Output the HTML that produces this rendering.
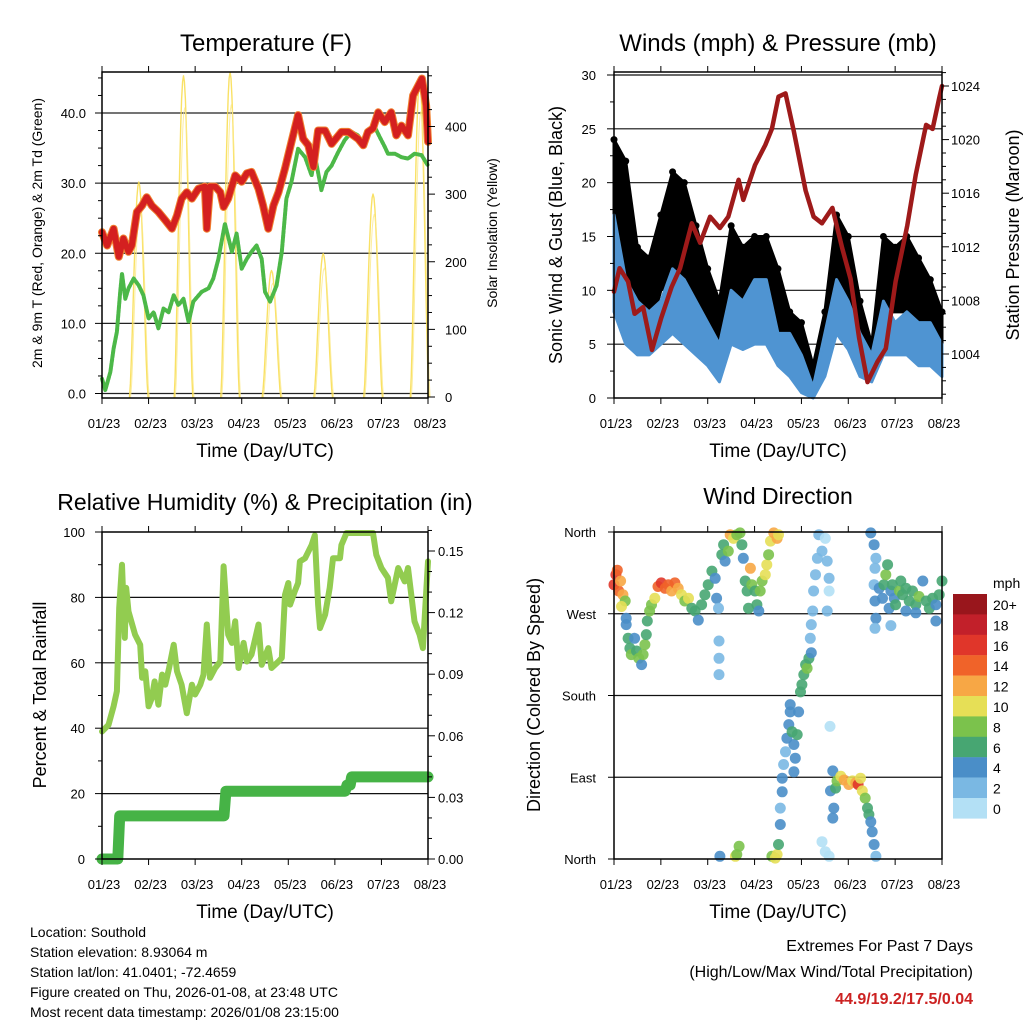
<!DOCTYPE html>
<html><head><meta charset="utf-8"><style>
html,body{margin:0;padding:0;background:#fff;}
svg{display:block;font-family:"Liberation Sans",sans-serif;}
</style></head><body>
<svg id="c" width="1024" height="1024" viewBox="0 0 1024 1024"></svg>
<script>
// ---------- DATA ----------
const xTickLabels = ["01/23","02/23","03/23","04/23","05/23","06/23","07/23","08/23"];
// Temperature panel
const tDays = [0,.11,.25,.36,.46,.57,.64,.75,.86,.96,1.07,1.21,1.36,1.5,1.61,1.71,1.82,1.93,2.07,2.21,2.25,2.32,2.43,2.54,2.61,2.71,2.86,3.0,3.11,3.21,3.36,3.46,3.57,3.68,3.79,3.93,4.07,4.21,4.32,4.43,4.54,4.64,4.79,4.93,5.14,5.29,5.5,5.61,5.71,5.82,5.93,6.07,6.21,6.32,6.43,6.57,6.68,6.79,6.87,6.96,7.0];
const tempF = [23.0,21.1,23.5,19.5,22.1,20.2,21.1,25.9,26.8,28.0,26.8,25.9,24.7,23.5,25.4,27.8,28.7,27.8,29.2,29.5,23.5,29.5,29.5,28.7,26.6,27.8,31.1,30.2,31.4,31.6,29.2,26.8,23.5,26.8,28.7,32.1,35.9,39.7,36.3,35.4,32.3,37.5,37.5,35.6,37.3,37.3,36.3,35.4,37.3,37.8,40.1,38.7,40.1,36.8,38.2,36.8,42.5,43.9,44.9,41.1,35.9];
const tdDays = [0,.07,.18,.25,.32,.39,.43,.5,.57,.68,.79,.89,1.0,1.11,1.21,1.32,1.43,1.54,1.64,1.75,1.86,1.96,2.14,2.29,2.39,2.5,2.64,2.79,2.89,3.0,3.11,3.21,3.32,3.43,3.5,3.61,3.75,3.86,3.96,4.07,4.21,4.36,4.5,4.57,4.71,4.82,4.93,5.07,5.21,5.36,5.5,5.61,5.71,5.82,5.96,6.07,6.14,6.29,6.43,6.57,6.71,6.86,7.0];
const dewF = [2.1,0.5,3.1,6.4,8.8,14.5,17.1,13.5,15.0,16.4,15.4,14.0,10.7,11.6,9.3,12.1,11.6,14.0,12.6,13.5,10.2,13.1,14.5,15.0,16.4,19.2,24.2,20.2,22.8,17.8,19.2,20.2,21.1,19.2,14.5,13.1,15.4,20.2,27.8,30.2,34.9,33.7,31.1,34.0,29.0,31.6,32.5,34.4,36.1,37.3,36.8,35.4,36.8,38.5,36.6,35.2,34.2,34.2,33.7,33.5,34.2,34.0,32.5];
const solarPeakDays = [0.79,1.75,2.75,3.64,4.75,5.82,6.82];
const solarPeakWm2 = [318,475,480,187,212,300,469];
// Winds panel
const windDays = [0,.25,.5,.75,1,1.25,1.5,1.75,2,2.25,2.5,2.75,3,3.25,3.5,3.75,4,4.25,4.5,4.75,5,5.25,5.5,5.75,6,6.25,6.5,6.75,7];
const gustHi = [24,22,14,13,17,21,20,16,12,9,16,14,15,15,12,8,7,3,8,17,15,9,5,15,14,15,13,11,8];
const gustLo = [12,11,8,6,10,11,9,7,6,4,8,8,8,9,5,3,1.5,0.5,3,10,8,4,3,8,8,8,7,6,4];
const windHi = [17,11,9,8,9,12,11,9,7,5,10,9,11,11,6,6,4,1,6,11,9,6,4,9,7,8,7,7,5];
const windLo = [8,5,4,4,5,6,5,4,3,1.5,5,4.5,5,5,3,2,0.5,0,2,6,4.5,2,1.5,4,4,4,3,3,2];
const presDays = [0,.12,.30,.44,.62,.81,1.01,1.23,1.41,1.66,1.84,2.05,2.26,2.44,2.66,2.76,3.01,3.23,3.37,3.51,3.66,3.84,4.09,4.26,4.44,4.66,4.87,5.05,5.23,5.41,5.62,5.80,6.01,6.26,6.44,6.66,6.80,6.94,7.0];
const presMb = [1008.65,1010.4,1009.4,1007.0,1007.5,1004.3,1006.7,1009.0,1010.4,1013.75,1012.3,1014.25,1013.4,1014.25,1017.0,1015.5,1018.1,1019.6,1020.8,1023.2,1023.45,1020.6,1016.2,1014.25,1013.75,1014.9,1011.9,1009.6,1005.2,1001.9,1003.4,1004.4,1009.4,1013.6,1017.4,1021.1,1020.8,1023.1,1024.0];
// RH / precipitation panel
const rhDays = [0,.14,.25,.32,.37,.43,.49,.52,.57,.71,.82,.86,.93,1.0,1.07,1.13,1.21,1.29,1.36,1.44,1.54,1.61,1.71,1.82,1.93,2.0,2.11,2.18,2.25,2.32,2.43,2.54,2.61,2.71,2.79,2.86,2.93,3.04,3.11,3.21,3.36,3.43,3.57,3.64,3.79,3.86,3.93,4.0,4.04,4.14,4.21,4.25,4.36,4.5,4.57,4.64,4.68,4.79,4.89,4.96,5.11,5.14,5.25,5.82,5.89,6.0,6.14,6.21,6.36,6.5,6.57,6.71,6.82,6.89,7.0];
const rhPct = [39,41,46.7,51.3,76.8,90,67.6,82.9,75.7,68.6,65.5,55.4,57.4,46.7,49.2,54.3,47.2,56.4,53.3,58.4,65.5,57.4,53.3,44.6,53.3,50.3,53.3,56.4,71.7,55.4,58.4,60.4,89.5,68.6,66.1,72.7,58.4,66.1,60.4,62.5,71.7,59.4,64.5,58.4,60.4,61.5,80.8,84.4,77.8,81.9,84.4,91,92,96,99,77.8,70.6,74.7,82.9,92,92,96,99.7,99.7,93,89,86,78.8,89,84.9,89,72.7,68.6,64.5,91];
const prDays = [0,0.34,0.38,2.62,2.66,5.22,5.26,5.33,5.36,7.0];
const prIn = [0,0,0.021,0.021,0.033,0.033,0.036,0.036,0.040,0.040];
// Wind direction panel
const wdDays = [0,.04,.07,.10,.14,.19,.24,.16,.26,.26,.30,.34,.37,.44,.48,.53,.59,.62,.66,.69,.71,.76,.80,.87,.94,1.01,1.09,1.16,1.23,1.30,1.37,1.44,1.51,1.59,1.66,1.73,1.80,1.87,1.94,2.01,2.09,2.16,2.19,2.23,2.24,2.24,2.24,2.30,2.34,2.37,2.44,2.48,2.55,2.62,2.69,2.73,2.76,2.80,2.84,2.87,2.91,2.94,3.01,3.05,3.09,3.12,3.16,3.23,3.26,3.30,3.34,3.41,3.48,3.51,2.26,2.59,2.62,2.67,3.37,3.44,3.48,3.51,3.55,3.55,3.59,3.59,3.62,3.66,3.69,3.73,3.76,3.80,3.84,3.87,3.84,3.76,3.91,3.94,3.98,4.01,4.05,4.09,4.12,4.16,4.21,4.19,4.21,4.24,4.26,4.30,4.34,4.37,4.44,4.51,4.55,4.59,4.59,4.55,4.61,4.44,4.51,4.59,4.67,4.62,4.69,4.67,4.73,4.76,4.84,4.91,5.01,5.09,5.16,5.21,5.26,5.30,5.36,5.41,5.44,5.48,5.51,5.55,5.59,5.48,5.55,5.59,5.57,5.55,5.57,5.59,5.57,5.66,5.73,5.76,5.80,5.84,5.87,5.91,5.94,5.98,6.01,6.09,6.12,6.16,6.23,6.30,6.37,6.44,6.51,6.59,6.66,6.73,6.80,6.87,6.94,7.0,6.87,5.91,6.23,6.44];
const wdDeg = [302,313,318,295,306,291,284,278,265,258,243,232,225,243,229,221,214,225,236,247,262,273,280,287,300,304,298,302,295,304,298,291,284,287,276,273,263,280,291,302,317,309,287,276,240,221,203,335,346,328,339,357,353,357,359,346,331,306,295,276,320,302,295,280,273,295,306,313,324,335,350,359,353,357,3,3,5,14,3,1,5,16,38,56,74,89,104,118,133,148,162,140,126,111,96,170,137,162,184,192,203,214,210,221,227,243,258,273,295,313,331,357,339,353,328,309,295,273,146,19,8,3,97,75,56,45,78,86,91,87,82,86,84,82,89,75,67,56,49,41,30,16,3,359,346,331,320,302,284,265,254,298,287,302,313,324,276,295,302,287,280,295,306,291,298,284,295,280,289,306,284,276,287,280,291,306,262,257,273,271];
const wdSpd = [16,17,15,14,12,12,8,10,4,4,7,6,8,5,6,9,4,8,8,6,7,8,9,10,14,16,15,14,13,14,12,10,8,10,6,6,4,6,7,6,6,5,4,3,2,2,2,6,7,5,8,12,11,9,8,6,5,6,7,6,12,8,6,6,4,9,8,11,10,9,10,13,12,11,4,10,8,8,9,11,10,6,4,3,4,4,3,3,4,4,4,6,4,4,4,4,7,4,6,6,7,6,8,6,4,3,2,2,2,2,2,2,2,1,2,2,1,2,1,0,1,0,4,4,4,4,6,8,10,12,12,11,13,16,10,10,8,7,6,4,4,4,2,4,4,3,2,3,4,4,2,4,5,7,8,7,4,5,6,5,6,8,7,7,6,6,7,6,8,5,6,6,6,5,6,6,4,3,4,5];
const cbLabels = ["20+","18","16","14","12","10","8","6","4","2","0"];
const cbColors = ["#99161c","#c2202a","#e0362a","#f06329","#f7a745","#e6df56","#7bc24c","#47a672","#4a8ec8","#7ab8e3","#b3e0f5"];

// ---------- HELPERS ----------
const NS="http://www.w3.org/2000/svg";
const svg=document.getElementById('c');
function el(tag,attrs,parent,text){const e=document.createElementNS(NS,tag);for(const k in attrs)e.setAttribute(k,attrs[k]);if(text!==undefined)e.textContent=text;(parent||svg).appendChild(e);return e;}
function lin(d0,d1,r0,r1){return v=>r0+(v-d0)/(d1-d0)*(r1-r0);}
function grp(name){const g=el('g',{});return g;}
function txt(parent,name,x,y,s,size,anchor,extra){const t=el('text',Object.assign({x:x,y:y,'font-size':size,'text-anchor':anchor||'middle',fill:'#000'},extra||{}),parent,s);return t;}
function frame(g,x0,x1,y0,y1){
  el('rect',{x:x0,y:y0,width:x1-x0,height:y1-y0,fill:'none',stroke:'#000','stroke-width':1.5},g);
}
function xAxis(g,X,y0,y1,title){
  for(let i=0;i<=7;i++){const x=X(i);
    el('line',{x1:x,x2:x,y1:y1,y2:y1+6,stroke:'#000','stroke-width':1},g);
    el('line',{x1:x,x2:x,y1:y0,y2:y0-6,stroke:'#000','stroke-width':1},g);
    txt(g,'x-tick-label',x+2,y1+30,xTickLabels[i],13);}
  txt(g,'x-axis-title',(X(0)+X(7))/2,y1+59,title,19);
}
function poly(g,name,xs,ys,X,Y,attrs){
  const pts=xs.map((d,i)=>X(d).toFixed(1)+','+Y(ys[i]).toFixed(1)).join(' ');
  const p=el('polyline',Object.assign({points:pts,fill:'none','stroke-linejoin':'round','stroke-linecap':'round'},attrs),g);
  return p;
}

// ---------- PANEL 1: Temperature ----------
(function(){
  const g=grp('temperature-panel');
  const x0=102,x1=428,y0=72,y1=398;
  const X=lin(0,7,x0,x1), Y=lin(0,40,393.5,113), Ys=lin(0,400,397,126.5);
  [0,10,20,30,40].forEach(v=>{el('line',{x1:x0,x2:x1,y1:Y(v),y2:Y(v),stroke:'#222','stroke-width':1.2},g);});
  const sg=grp('solar-insolation-series');g.appendChild(sg);
  solarPeakDays.forEach((d,i)=>{
    const xs=[],ys=[];
    for(let k=-10;k<=10;k++){const f=k/10;xs.push(d+f*0.2);ys.push(solarPeakWm2[i]*Math.max(0,Math.cos(f*Math.PI/2))**1.5);}
    poly(sg,'solar-peak',xs,ys,X,Ys,{stroke:'#f8dc4a','stroke-width':1.4,opacity:0.85});
    const xs2=xs.map(v=>v+0.025);
    poly(sg,'solar-peak-edge',xs2,ys.map(v=>v*0.9),X,Ys,{stroke:'#fbe889','stroke-width':1,opacity:0.8});
  });
  poly(g,'dewpoint-line',tdDays,dewF,X,Y,{stroke:'#4cb848','stroke-width':4,'stroke-dasharray':'3 1.5'});
  poly(g,'temp-9m-line',tDays,tempF,X,Y,{stroke:'#f08030','stroke-width':8});
  poly(g,'temp-2m-line',tDays,tempF,X,Y,{stroke:'#d42020','stroke-width':6});
  frame(g,x0,x1,y0,y1);
  for(let v=0;v<=46;v+=2.5){el('line',{x1:x0,x2:x0-(v%10===0?7:4),y1:Y(v),y2:Y(v),stroke:'#000'},g);}
  [0,10,20,30,40].forEach(v=>txt(g,'left-tick-label',x0-16,Y(v)+5,v.toFixed(1),13,'end'));
  for(let v=0;v<=475;v+=25){el('line',{x1:x1,x2:x1+(v%100===0?7:4),y1:Ys(v),y2:Ys(v),stroke:'#000'},g);}
  [0,100,200,300,400].forEach(v=>txt(g,'right-tick-label',x1+17,Ys(v)+5,String(v),13,'start'));
  txt(g,'chart-title',266,51,'Temperature (F)',24);
  txt(g,'y-axis-title',0,0,'2m & 9m T (Red, Orange) & 2m Td (Green)',14,'middle',{transform:'translate(42,233) rotate(-90)'});
  txt(g,'right-axis-title',0,0,'Solar Insolation (Yellow)',14,'middle',{transform:'translate(497,233) rotate(-90)'});
  xAxis(g,X,y0,y1,'Time (Day/UTC)');
})();

// ---------- PANEL 2: Winds ----------
(function(){
  const g=grp('winds-panel');
  const x0=614,x1=942,y0=72,y1=398;
  const X=lin(0,7,x0,x1), Y=lin(0,30,398,75), Yp=lin(1004,1024,354,86);
  [5,10,15,20,25,30].forEach(v=>el('line',{x1:x0,x2:x1,y1:Y(v),y2:Y(v),stroke:'#111','stroke-width':1.2},g));
  function band(name,hi,lo,color){
    const pts=windDays.map((d,i)=>X(d)+','+Y(hi[i])).concat(windDays.slice().reverse().map((d,j)=>{const i=windDays.length-1-j;return X(d)+','+Y(lo[i]);})).join(' ');
    const p=el('polygon',{points:pts,fill:color,stroke:color,'stroke-width':3,'stroke-linejoin':'round'},g);
    
  }
  band('gust-scatter',gustHi,gustLo,'#000');
  const dg=grp('gust-dots');g.appendChild(dg);
  windDays.forEach((d,i)=>{const c=el('circle',{cx:X(d),cy:Y(gustHi[i]),r:3.5,fill:'#000'},dg);});
  band('sonic-wind-series',windHi,windLo,'#4f94d2');
  poly(g,'pressure-line',presDays,presMb,X,Yp,{stroke:'#9e1a1a','stroke-width':4.5});
  frame(g,x0,x1,y0,y1);
  for(let v=0;v<=30;v+=2.5){el('line',{x1:x0,x2:x0-(v%5===0?7:4),y1:Y(v),y2:Y(v),stroke:'#000'},g);}
  [0,5,10,15,20,25,30].forEach(v=>txt(g,'left-tick-label',x0-18,Y(v)+5,String(v),13,'end'));
  for(let v=1001;v<=1025;v+=1){el('line',{x1:x1,x2:x1+(v%4===0?7:4),y1:Yp(v),y2:Yp(v),stroke:'#000'},g);}
  [1004,1008,1012,1016,1020,1024].forEach(v=>txt(g,'right-tick-label',x1+9,Yp(v)+5,String(v),13,'start'));
  txt(g,'chart-title',778,51,'Winds (mph) & Pressure (mb)',24);
  txt(g,'y-axis-title',0,0,'Sonic Wind & Gust (Blue, Black)',18,'middle',{transform:'translate(562,235) rotate(-90)'});
  txt(g,'right-axis-title',0,0,'Station Pressure (Maroon)',18,'middle',{transform:'translate(1019,235) rotate(-90)'});
  xAxis(g,X,y0,y1,'Time (Day/UTC)');
})();

// ---------- PANEL 3: RH & Precip ----------
(function(){
  const g=grp('humidity-precip-panel');
  const x0=102,x1=428,y0=532,y1=859;
  const X=lin(0,7,x0,x1), Y=lin(0,100,859,532), Yr=lin(0,0.15,859,551);
  [20,40,60,80].forEach(v=>el('line',{x1:x0,x2:x1,y1:Y(v),y2:Y(v),stroke:'#111','stroke-width':1.2},g));
  poly(g,'relative-humidity-line',rhDays,rhPct,X,Y,{stroke:'#92cc50','stroke-width':6});
  poly(g,'precipitation-line',prDays,prIn,X,Yr,{stroke:'#46b346','stroke-width':11});
  frame(g,x0,x1,y0,y1);
  for(let v=0;v<=100;v+=10){el('line',{x1:x0,x2:x0-(v%20===0?7:4),y1:Y(v),y2:Y(v),stroke:'#000'},g);}
  [0,20,40,60,80,100].forEach(v=>txt(g,'left-tick-label',x0-17,Y(v)+5,String(v),13,'end'));
  for(let v=0;v<=0.16;v+=0.01){el('line',{x1:x1,x2:x1+(Math.round(v*100)%3===0?7:4),y1:Yr(v),y2:Yr(v),stroke:'#000'},g);}
  [0,0.03,0.06,0.09,0.12,0.15].forEach(v=>txt(g,'right-tick-label',x1+10,Yr(v)+5,v.toFixed(2),13,'start'));
  txt(g,'chart-title',265,510,'Relative Humidity (%) & Precipitation (in)',23);
  txt(g,'y-axis-title',0,0,'Percent & Total Rainfall',18,'middle',{transform:'translate(46,695) rotate(-90)'});
  xAxis(g,X,y0,y1,'Time (Day/UTC)');
})();

// ---------- PANEL 4: Wind direction ----------
(function(){
  const g=grp('wind-direction-panel');
  const x0=614,x1=942,y0=532,y1=859;
  const X=lin(0,7,x0,x1), Y=lin(0,360,859,532);
  [90,180,270].forEach(v=>el('line',{x1:x0,x2:x1,y1:Y(v),y2:Y(v),stroke:'#111','stroke-width':1.2},g));
  const pg=grp('direction-scatter');g.appendChild(pg);
  function col(s){const idx=Math.min(10,Math.floor(s/2));return cbColors[10-idx];}
  wdDays.forEach((d,i)=>{
    const c=el('circle',{cx:X(d).toFixed(1),cy:Y(wdDeg[i]).toFixed(1),r:5.5,fill:col(wdSpd[i]),opacity:0.9},pg);
    
    
  });
  frame(g,x0,x1,y0,y1);
  ["North","East","South","West","North"].forEach((s,i)=>{
    el('line',{x1:x0,x2:x0-6,y1:Y(i*90),y2:Y(i*90),stroke:'#000'},g);
    txt(g,'direction-tick-label',x0-18,Y(i*90)+5,s,13,'end');
  });
  txt(g,'chart-title',778,504,'Wind Direction',23);
  txt(g,'y-axis-title',0,0,'Direction (Colored By Speed)',18,'middle',{transform:'translate(540,695) rotate(-90)'});
  xAxis(g,X,y0,y1,'Time (Day/UTC)');
  const lg=grp('speed-colorbar');svg.appendChild(lg);
  txt(lg,'colorbar-unit',993,588,'mph',14,'start');
  cbColors.forEach((c,i)=>{
    const r=el('rect',{x:953,y:594+i*20.4,width:34,height:20.6,fill:c},lg);
    
    txt(lg,'colorbar-label',993,594+i*20.4+16,cbLabels[i],14,'start');
  });
})();

// ---------- Footer text ----------
(function(){
  const g=grp('station-info');
  ["Location: Southold","Station elevation: 8.93064 m","Station lat/lon: 41.0401; -72.4659","Figure created on Thu, 2026-01-08, at 23:48 UTC","Most recent data timestamp: 2026/01/08 23:15:00"].forEach((s,i)=>txt(g,'info-line',30,937+i*20,s,14,'start'));
  const e=grp('extremes-summary');
  txt(e,'extremes-title',973,951,'Extremes For Past 7 Days',16,'end');
  txt(e,'extremes-subtitle',973,977,'(High/Low/Max Wind/Total Precipitation)',16,'end');
  txt(e,'extremes-values',973,1004,'44.9/19.2/17.5/0.04',16,'end',{fill:'#cc2222','font-weight':'bold'});
})();
</script>
</body></html>
